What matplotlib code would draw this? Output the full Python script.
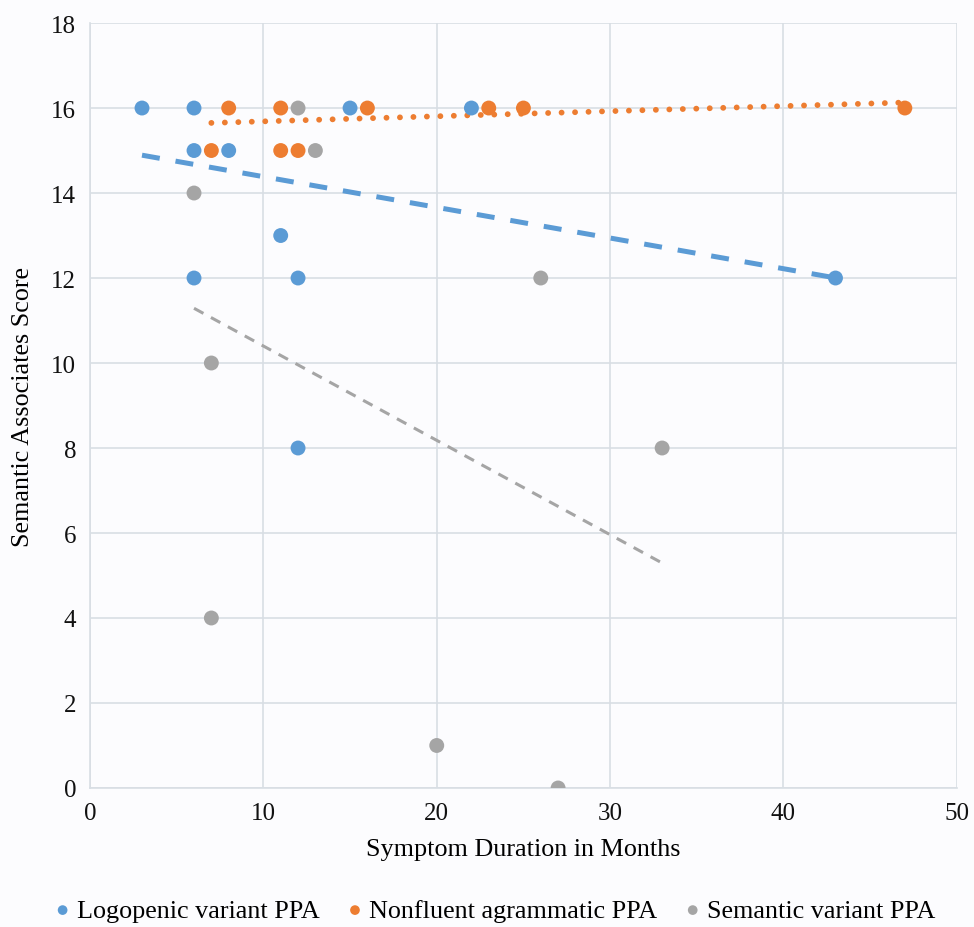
import numpy as np
import matplotlib.pyplot as plt

plt.rcParams['font.family'] = ['Liberation Serif', 'DejaVu Serif']

# symptom duration (months) and semantic associates score per group
lvppa_x = [3, 6, 6, 8, 15, 22, 11, 6, 12, 12, 43]
lvppa_y = [16, 16, 15, 15, 16, 16, 13, 12, 12, 8, 12]

nfvppa_x = [8, 11, 16, 23, 25, 47, 7, 11, 12]
nfvppa_y = [16, 16, 16, 16, 16, 16, 15, 15, 15]

svppa_x = [12, 13, 6, 26, 7, 33, 7, 20, 27]
svppa_y = [16, 15, 14, 12, 10, 8, 4, 1, 0]

# linear trendlines (slope, intercept)
lvppa_trend = (-0.0722, 15.107)
nfvppa_trend = (0.012, 15.566)
svppa_trend = (-0.222, 12.62)

labels = ['Logopenic variant PPA', 'Nonfluent agrammatic PPA', 'Semantic variant PPA']
colors = ['#5B9BD5', '#ED7D31', '#A5A5A5']

fig = plt.figure(figsize=(9.74, 9.28), dpi=100)
fig.patch.set_facecolor('#fcfcfe')
ax = fig.add_axes([0.0924, 0.1498, 0.89, 0.8243])
ax.set_facecolor('#fcfcfe')

series = [(lvppa_x, lvppa_y, lvppa_trend),
          (nfvppa_x, nfvppa_y, nfvppa_trend),
          (svppa_x, svppa_y, svppa_trend)]
styles = [
    dict(linestyle=(0, (3.6, 3.2)), linewidth=3.6),
    dict(linestyle=(0, (0.01, 2.3)), linewidth=4.2, dash_capstyle='round'),
    dict(linestyle=(0, (3.5, 2.8)), linewidth=2.2),
]

handles = []
for (xs, ys, (k, b)), lab, col, st in zip(series, labels, colors, styles):
    h = ax.scatter(xs, ys, s=115, color=col, label=lab, zorder=3, edgecolors='none')
    handles.append(h)
    xx = np.array([min(xs), max(xs)])
    ax.plot(xx, k * xx + b, color=col, zorder=2, **st)

ax.set_xlim(0, 50)
ax.set_ylim(0, 18)
ax.set_xticks(range(0, 51, 10))
ax.set_yticks(range(0, 19, 2))
ax.grid(True, color='#d8dee4', linewidth=1.2)
ax.set_axisbelow(True)
for side in ['top', 'right']:
    ax.spines[side].set_visible(False)
for side in ['left', 'bottom']:
    ax.spines[side].set_color('#d8dee4')
    ax.spines[side].set_linewidth(1.2)
ax.tick_params(length=0, labelsize=18, pad=10, colors='#111111')

ax.set_xlabel('Symptom Duration in Months', fontsize=18.8, labelpad=10)
ax.set_ylabel('Semantic Associates Score', fontsize=18.8, labelpad=12)

fig.legend(handles=handles, loc='center', bbox_to_anchor=(0.509, 0.018), ncol=3,
           frameon=False, fontsize=18.8, handlelength=0.5, handletextpad=0.3,
           columnspacing=1.1, markerscale=0.65, borderaxespad=0)

fig.savefig('out.png', dpi=100, facecolor=fig.get_facecolor())
